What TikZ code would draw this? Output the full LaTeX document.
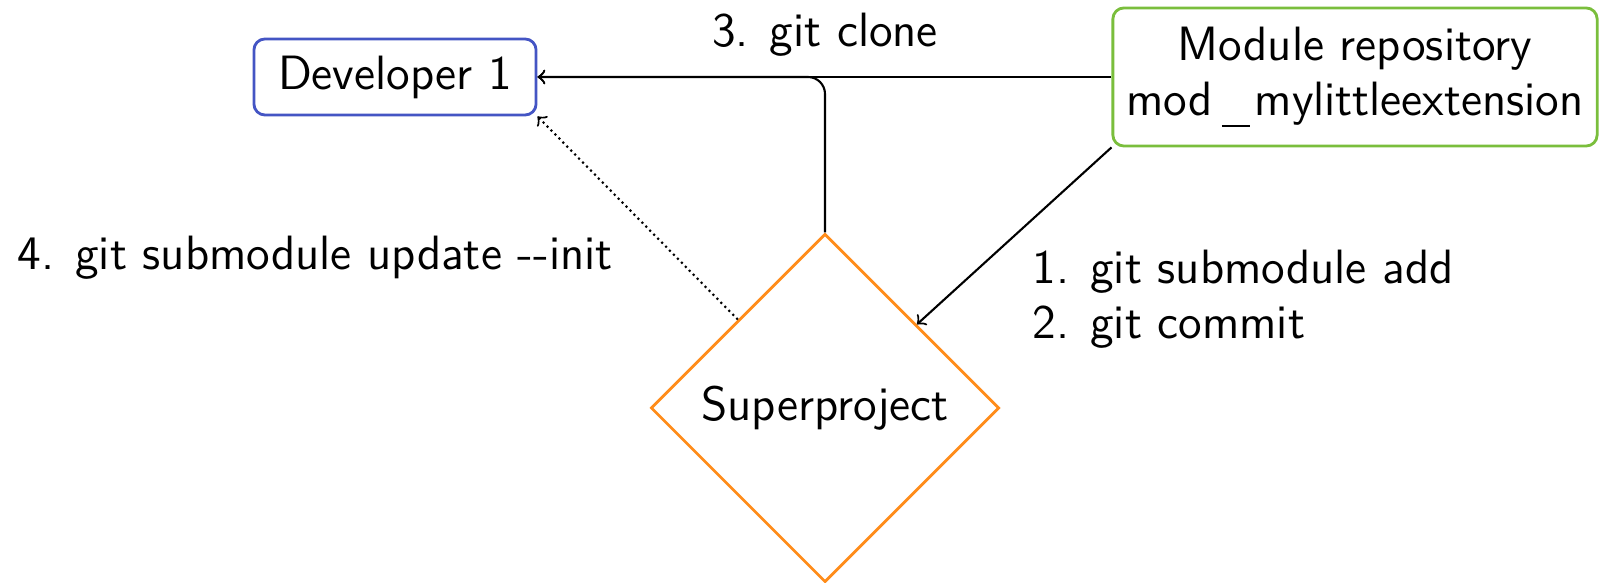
\documentclass[tikz,border=0pt]{standalone}
\usetikzlibrary{shapes.geometric}
\definecolor{devblue}{RGB}{68,85,196}
\definecolor{modgreen}{RGB}{122,190,60}
\definecolor{sporange}{RGB}{255,140,26}
\tikzset{
  box/.style={draw, rounded corners=0.11cm, line width=0.8pt, inner sep=0pt, align=center},
  conn/.style={->, line width=0.6pt, black},
  lbl/.style={inner sep=0pt},
}
\newcommand{\myunderscore}{\hspace{0.19em}\rule[-0.25em]{0.58em}{0.05em}\hspace{0.1em}}
\begin{document}
\begin{tikzpicture}[x=0.01cm, y=-0.01cm, font=\sffamily\fontsize{13.7}{15.6}\selectfont]
\useasboundingbox (0,0) rectangle (1600,583);
\node[box, draw=devblue, minimum width=2.82cm, minimum height=0.76cm] (dev) at (395,77) {Developer 1};
\node[box, draw=modgreen, minimum width=4.84cm, minimum height=1.38cm] (mod) at (1355,77) {Module repository\\mod\myunderscore mylittleextension};
\node[diamond, aspect=1, draw=sporange, line width=0.8pt, inner sep=0pt, minimum width=3.48cm, minimum height=3.48cm] (sp) at (825,408) {Superproject};
\draw[conn] (mod.west) -- (dev.east);
\draw[conn, rounded corners=0.17cm] (sp.north) |- (dev.east);
\draw[conn, densely dotted] (sp) -- (dev.south east);
\draw[conn] (mod.south west) -- (sp);
\node[lbl, anchor=base] (l3) at (825,47) {3. git clone};
\node[lbl, anchor=base west] (l4) at (17,270) {4. git submodule update -{}-init};
\node[lbl, anchor=base west] (l1) at (1032,284) {1. git submodule add};
\node[lbl, anchor=base west] (l2) at (1032,339) {2. git commit};
\end{tikzpicture}
\end{document}
